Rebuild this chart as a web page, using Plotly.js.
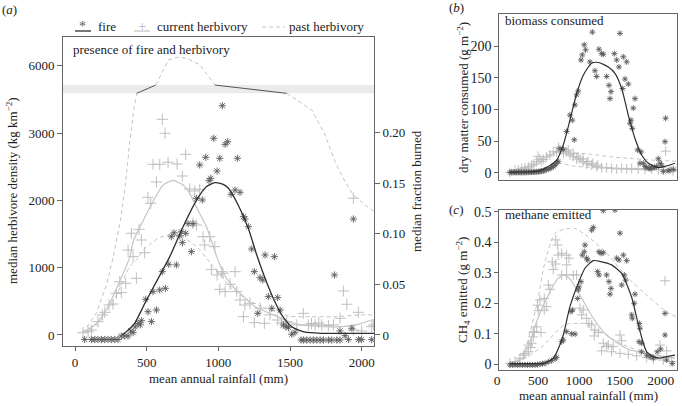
<!DOCTYPE html>
<html>
<head>
<meta charset="utf-8">
<script src="https://cdn.plot.ly/plotly-3.0.1.min.js"></script>
<style>html,body{margin:0;padding:0;background:#fff}#chart{width:682px;height:406px}</style>
</head>
<body>
<div id="chart"></div>
<script>
// ---------- DATA (mean annual rainfall in mm, value) ----------
const rainTicks = [0, 500, 1000, 1500, 2000];
const rainTickText = ['0', '500', '1000', '1500', '2000'];

// Panel (a): fire (median fraction burned, right axis)
const fireA = [[67,-0.0045],[114,-0.0045],[137,-0.0045],[160,-0.0045],[184,-0.0045],[207,-0.0045],[230,-0.0045],[253,-0.0045],[277,-0.0045],[300,-0.0045],[323,-0.001],[347,-0.001],[370,-0.001],[390,0.004],[405,0.0023],[420,0.008],[440,0.0115],[455,0.01],[463,0.0141],[533,0.0132],[509,0.023],[568,0.0247],[493,0.0353],[544,0.0428],[591,0.0445],[630,0.0461],[609,0.0626],[654,0.0698],[707,0.0692],[672,0.0971],[691,0.101],[731,0.0978],[742,0.102],[772,0.1005],[749,0.0912],[812,0.0823],[789,0.110],[823,0.110],[847,0.135],[888,0.1334],[870,0.168],[912,0.1756],[935,0.1525],[947,0.1548],[991,0.162],[968,0.1944],[1010,0.1746],[1028,0.2266],[1047,0.1884],[1065,0.191],[1133,0.1746],[1089,0.139],[1117,0.1433],[1151,0.141],[1175,0.1169],[1186,0.1146],[1210,0.107],[1233,0.085],[1326,0.079],[1391,0.0774],[1251,0.0626],[1291,0.0566],[1310,0.0543],[1349,0.0379],[1414,0.0369],[1373,0.0264],[1431,0.0247],[1275,0.0214],[1454,0.0099],[1472,0.0082],[1489,0.0072],[1512,0.0007],[1535,0.0027],[1577,-0.005],[1593,-0.005],[1617,-0.005],[1640,-0.005],[1663,-0.005],[1687,-0.005],[1710,-0.005],[1733,-0.005],[1768,-0.005],[1791,-0.005],[1826,-0.005],[1849,-0.005],[1810,0.0593],[1942,0.1146],[1849,0.004],[1884,-0.0007],[1907,-0.0046],[1977,-0.0046],[2000,-0.0046],[2070,-0.0046],[1931,0.0066]];
const fireLineA = [[330,0],[358,0.0033],[416,0.0115],[486,0.031],[568,0.0527],[661,0.0774],[754,0.107],[847,0.133],[916,0.1465],[975,0.1505],[1030,0.149],[1070,0.145],[1140,0.128],[1210,0.105],[1268,0.079],[1326,0.056],[1384,0.036],[1442,0.0198],[1512,0.0082],[1605,0.0027],[1721,0.0016],[2086,0.0016]];
// Panel (a): herbivore density (kg km-2, left axis)
const herbA = [[56,34],[91,50],[114,74],[160,198],[191,298],[207,337],[237,446],[265,461],[289,620],[323,630],[312,793],[354,769],[428,843],[370,1265],[405,1165],[486,1224],[463,1413],[393,1513],[447,1572],[528,1959],[509,2048],[568,2276],[544,2539],[591,2539],[649,2569],[712,2544],[772,2688],[749,2365],[609,3209],[628,3000],[800,2172],[835,2142],[870,2167],[823,1661],[847,1636],[893,1462],[940,1462],[905,1339],[975,1314],[951,977],[991,893],[1010,680],[1033,918],[1024,942],[1117,942],[1047,645],[1082,754],[1128,645],[1151,521],[1186,446],[1221,471],[1175,273],[1251,183],[1321,174],[1291,397],[1360,300],[1414,223],[1440,180],[1477,198],[1593,322],[1547,149],[1628,150],[1650,170],[1675,150],[1700,180],[1721,150],[1768,140],[1803,150],[1849,248],[1872,655],[1896,457],[1977,337],[1942,74],[2000,60],[2070,124],[1942,2034],[2082,149]];
const herbLineA = [[56,30],[149,170],[219,380],[291,700],[381,1150],[407,1400],[475,1700],[523,1900],[614,2230],[684,2300],[754,2230],[802,2100],[847,1900],[919,1600],[986,1180],[1033,930],[1093,740],[1151,620],[1256,420],[1384,300],[1512,180],[1675,130],[1861,124],[1977,159],[2082,230]];
const pastLowA = [[56,30],[149,140],[219,372],[291,600],[381,1016],[430,1116],[475,1265],[523,1350],[580,1440],[640,1480],[700,1480],[756,1450],[849,1314],[965,1016],[1093,695],[1221,500],[1338,397],[1500,280],[1650,272],[1803,272],[1989,298],[2082,298]];
const pastUpA = [[56,30],[149,330],[219,740],[265,1150],[312,1650],[347,2150],[381,2850],[410,3350],[430,3595],[563,5712],[616,5936],[651,6085],[710,6125],[779,6110],[872,6011],[977,5712],[1477,3595],[1512,3545],[1652,3347],[1745,2975],[1814,2578],[1884,2281],[1942,2083],[2024,1934],[2086,1834]];
// axis break of panel (a): values between these are squeezed into the grey band
const breakLow = 3595, breakHigh = 5712;
const leftTicks = [0, 1000, 2000, 3000, 6000];
const rightTicks = [0, 0.05, 0.10, 0.15, 0.20];
const rightTickText = ['0', '0.05', '0.10', '0.15', '0.20'];

// Panel (b): dry matter consumed (g m-2)
const fireB = [[46,0.5],[66,0.5],[87,0.5],[107,0.5],[128,0.5],[148,0.5],[169,0.5],[189,0.5],[210,0.5],[230,0.5],[250,0.8],[270,0.8],[291,1],[311,1],[332,1],[352,1.2],[373,1.5],[393,1.5],[413,2],[434,2.5],[454,3],[475,4],[495,5],[516,6],[536,7],[556,8],[576,10],[597,12],[617,15],[637,18],[658,38],[699,37],[740,65],[833,52],[780,91],[809,83],[842,107],[862,123],[882,129],[915,178],[931,186],[955,202],[972,194],[1025,175],[1054,222],[1086,161],[1107,152],[1135,195],[1168,188],[1188,187],[1229,152],[1258,138],[1282,128],[1270,117],[1323,188],[1352,178],[1380,167],[1392,220],[1433,183],[1474,175],[1453,148],[1494,140],[1425,133],[1576,117],[1555,102],[1527,83],[1515,78],[1543,70],[1608,36],[1649,33],[1637,15],[1678,15],[1700,10],[1719,8],[1747,8],[1760,6],[1780,8],[1812,8],[1840,10],[1861,22],[1882,15],[1900,12],[1922,2],[1951,86],[1943,49],[1980,3],[2004,4],[2050,5]];
const fireLineB = [[46,1],[250,1.5],[400,3],[475,7],[540,12],[618,20],[699,44],[780,83],[862,125],[943,154],[1046,173],[1127,174],[1249,167],[1331,157],[1413,133],[1494,91],[1576,54],[1657,28],[1739,15],[1861,8],[1943,10],[2065,15]];
const herbB = [[46,0.5],[108,4.3],[150,5],[190,6.9],[230,8],[271,9.5],[312,12],[340,14],[373,17.4],[390,26],[413,21.6],[430,18],[454,21],[495,25.3],[536,28],[576,33],[617,33],[640,40],[658,35.8],[699,37.4],[700,30],[740,33],[760,36],[780,28],[820,30],[821,25.3],[862,21.6],[880,25],[903,21.6],[940,22],[943,17.4],[984,14],[1000,18],[1046,12],[1060,15],[1107,9.5],[1120,12],[1168,8],[1229,8],[1290,6.9],[1352,6],[1413,6.9],[1474,6],[1535,6.9],[1616,6],[1698,5],[1780,6],[1861,5],[1922,4.5],[1951,34],[2040,3]];
const herbLineB = [[46,1],[250,5],[400,15],[500,24],[600,31],[700,33],[800,28],[900,20],[1000,14],[1100,10],[1250,7.5],[1450,6],[1700,5],[1900,5],[2086,5]];
const pastUpB = [[46,1],[250,6],[393,18],[500,27],[597,33],[700,35],[801,32],[1046,29],[1290,25],[1576,22],[1780,20],[2024,18.5],[2086,18]];
const pastLowB = [[46,0.5],[250,2],[352,4],[500,9],[637,15],[700,14],[801,11],[1046,8],[1290,7],[1576,6],[1820,8],[2024,9.5],[2086,10]];
const ticksB = [0, 50, 100, 150, 200];

// Panel (c): CH4 emitted (g m-2)
const fireC = [[46,-0.002],[77,-0.002],[108,-0.002],[139,-0.002],[169,-0.002],[200,-0.002],[230,-0.002],[261,-0.002],[291,-0.002],[322,-0.002],[352,-0.002],[383,-0.001],[413,0],[444,0.002],[475,0.003],[515,0.008],[556,0.012],[597,0.018],[617,0.023],[679,0.074],[699,0.08],[740,0.107],[801,0.1],[842,0.099],[793,0.173],[813,0.178],[874,0.216],[882,0.244],[890,0.254],[915,0.271],[931,0.358],[955,0.369],[964,0.391],[984,0.348],[997,0.342],[1046,0.44],[1066,0.449],[1119,0.304],[1135,0.293],[1135,0.369],[1160,0.364],[1188,0.366],[1229,0.293],[1258,0.271],[1282,0.249],[1270,0.23],[1188,0.504],[1331,0.506],[1392,0.43],[1352,0.348],[1380,0.342],[1433,0.358],[1474,0.34],[1445,0.293],[1462,0.276],[1413,0.26],[1576,0.23],[1567,0.2],[1535,0.162],[1543,0.151],[1625,0.074],[1657,0.069],[1943,0.167],[1943,0.096],[1629,0.134],[1637,0.118],[1657,0.041],[1719,0.03],[1759,0.025],[1800,0.02],[1848,0.041],[1890,0.05],[1963,0.014],[2032,0.003]];
const fireLineC = [[46,0.002],[300,0.002],[463,0.003],[576,0.02],[620,0.04],[699,0.096],[780,0.189],[882,0.266],[964,0.315],[1066,0.340],[1168,0.336],[1290,0.326],[1413,0.298],[1535,0.22],[1616,0.13],[1677,0.07],[1719,0.041],[1800,0.025],[1882,0.02],[1963,0.025],[2065,0.03]];
const herbC = [[46,0.003],[108,0.009],[169,0.02],[210,0.03],[230,0.035],[271,0.041],[271,0.063],[300,0.055],[312,0.069],[332,0.09],[344,0.107],[426,0.104],[332,0.105],[373,0.123],[393,0.176],[466,0.178],[385,0.194],[495,0.189],[413,0.211],[466,0.216],[515,0.26],[536,0.246],[576,0.311],[564,0.336],[606,0.329],[606,0.408],[630,0.391],[637,0.358],[679,0.364],[740,0.358],[768,0.348],[740,0.326],[679,0.293],[740,0.293],[821,0.293],[862,0.293],[903,0.184],[943,0.178],[923,0.162],[984,0.151],[1013,0.134],[1046,0.129],[1086,0.112],[1127,0.104],[1078,0.093],[1392,0.096],[1188,0.069],[1249,0.063],[1310,0.058],[1943,0.274],[1882,0.063],[1168,0.044],[1290,0.041],[1392,0.036],[1494,0.033],[1596,0.028],[1719,0.022],[1800,0.017],[1922,0.014],[2024,0.009],[1229,0.058],[1413,0.077],[1963,0.044]];
const herbLineC = [[46,0.003],[200,0.02],[291,0.074],[373,0.14],[456,0.194],[540,0.24],[617,0.276],[700,0.293],[780,0.28],[850,0.25],[903,0.227],[1066,0.151],[1229,0.096],[1474,0.052],[1800,0.03],[2065,0.02]];
const pastUpC = [[46,0.003],[169,0.02],[250,0.063],[373,0.194],[475,0.336],[597,0.43],[719,0.443],[842,0.446],[1005,0.418],[1229,0.364],[1494,0.282],[1739,0.222],[1963,0.172],[2086,0.155]];
const pastLowC = [[46,0.002],[150,0.01],[291,0.03],[450,0.06],[576,0.096],[679,0.123],[780,0.134],[842,0.134],[943,0.134],[1086,0.112],[1148,0.107],[1392,0.069],[1719,0.036],[2065,0.02]];
const ticksC = [0, 0.1, 0.2, 0.3, 0.4, 0.5];

// legend labels
const legendLabels = ['fire', 'current herbivory', 'past herbivory'];

// ---------- STYLE ----------
const FONT = 'Liberation Serif, "Times New Roman", Times, serif';
const AST = '#5a5a5a', PLUS = '#b8b8b8', FIRE = '#2e2e2e', HERB = '#c4c4c4', PAST = '#c4c4c4', AXIS = '#666';
const W = 682, H = 406;
const px = v => v / W, py = v => 1 - v / H;

// broken-axis mapping of panel (a) left axis (display units = kg km-2 below the break)
const bandSize = 123;
function brk(v) {
  if (v <= breakLow) return v;
  if (v >= breakHigh) return v - breakHigh + breakLow + bandSize;
  return breakLow + (v - breakLow) / (breakHigh - breakLow) * bandSize;
}
const X = a => a.map(p => p[0]);
const Y = a => a.map(p => p[1]);

function pointsTrace(arr, xa, ya, sym, size, color, map) {
  return {x: X(arr), y: map ? Y(arr).map(map) : Y(arr), xaxis: xa, yaxis: ya, mode: 'markers', showlegend: false,
    marker: {symbol: sym, size: size, color: color, line: {color: color, width: 0.9}}, hoverinfo: 'skip'};
}
function lineTrace(arr, xa, ya, color, width, dash, map) {
  return {x: X(arr), y: map ? Y(arr).map(map) : Y(arr), xaxis: xa, yaxis: ya, mode: 'lines', showlegend: false,
    line: {color: color, width: width, dash: dash || 'solid', shape: 'spline', smoothing: 0.6}, hoverinfo: 'skip'};
}
// split a series into runs outside / inside the axis break
function bandRuns(arr) {
  const runs = [];
  for (let i = 0; i < arr.length - 1; i++) {
    const a = arr[i], b = arr[i + 1];
    const inBand = a[1] >= breakLow && a[1] <= breakHigh && b[1] >= breakLow && b[1] <= breakHigh;
    const last = runs[runs.length - 1];
    if (last && last.band === inBand) last.pts.push(b); else runs.push({band: inBand, pts: [a, b]});
  }
  return runs;
}

const DASH = '4px,3px';
const traces = [];
// panel (a)
traces.push(lineTrace(pastLowA, 'x', 'y', PAST, 1, DASH));
bandRuns(pastUpA).forEach(r => {
  const t = lineTrace(r.pts, 'x', 'y', r.band ? '#555' : PAST, 1, r.band ? 'solid' : DASH, brk);
  t.line.shape = 'linear';
  traces.push(t);
});
traces.push(pointsTrace(herbA, 'x', 'y', 'cross-thin-open', 8, PLUS));
traces.push(lineTrace(herbLineA, 'x', 'y', HERB, 1.2));
traces.push(pointsTrace(fireA, 'x', 'y2', 'asterisk-open', 6, AST));
traces.push(lineTrace(fireLineA, 'x', 'y2', FIRE, 1.3));
// panel (b)
traces.push(lineTrace(pastUpB, 'x2', 'y3', PAST, 1, DASH));
traces.push(lineTrace(pastLowB, 'x2', 'y3', PAST, 1, DASH));
traces.push(pointsTrace(herbB, 'x2', 'y3', 'cross-thin-open', 7, PLUS));
traces.push(lineTrace(herbLineB, 'x2', 'y3', HERB, 1.2));
traces.push(pointsTrace(fireB, 'x2', 'y3', 'asterisk-open', 5, AST));
traces.push(lineTrace(fireLineB, 'x2', 'y3', FIRE, 1.2));
// panel (c)
traces.push(lineTrace(pastUpC, 'x3', 'y4', PAST, 1, DASH));
traces.push(lineTrace(pastLowC, 'x3', 'y4', PAST, 1, DASH));
traces.push(pointsTrace(herbC, 'x3', 'y4', 'cross-thin-open', 7, PLUS));
traces.push(lineTrace(herbLineC, 'x3', 'y4', HERB, 1.2));
traces.push(pointsTrace(fireC, 'x3', 'y4', 'asterisk-open', 5, AST));
traces.push(lineTrace(fireLineC, 'x3', 'y4', FIRE, 1.2));

const tickFont = {family: FONT, size: 13, color: '#222'};
const tickFontBC = {family: FONT, size: 14, color: '#222'};
const baseAx = {showgrid: false, zeroline: false, showline: true, linecolor: AXIS, linewidth: 1, mirror: true,
  ticks: 'outside', ticklen: 5, tickcolor: AXIS, tickfont: tickFont};

const xRange = [-84, 2086];
function ann(text, x, y, opts) {
  return Object.assign({text: text, x: px(x), y: py(y), xref: 'paper', yref: 'paper', showarrow: false,
    xanchor: 'center', yanchor: 'middle', font: {family: FONT, size: 13, color: '#222'}}, opts || {});
}
function hline(x0, x1, y, color, width, dash) {
  return {type: 'line', xref: 'paper', yref: 'paper', x0: px(x0), x1: px(x1), y0: py(y), y1: py(y),
    line: {color: color, width: width, dash: dash || 'solid'}};
}

const layout = {
  width: W, height: H, margin: {l: 0, r: 0, t: 0, b: 0},
  paper_bgcolor: '#fff', plot_bgcolor: '#fff',
  font: {family: FONT, size: 13, color: '#222'},
  showlegend: false,
  xaxis: Object.assign({}, baseAx, {domain: [px(63), px(374)], anchor: 'y', range: xRange, ticklen: 4,
    tickvals: rainTicks, ticktext: rainTickText}),
  yaxis: Object.assign({}, baseAx, {domain: [py(346), py(37)], anchor: 'x', range: [-164, 4433],
    tickvals: leftTicks.map(brk), ticktext: leftTicks.map(String)}),
  yaxis2: Object.assign({}, baseAx, {overlaying: 'y', side: 'right', anchor: 'x', showline: false, mirror: false,
    range: [-0.0109, 0.2945], tickvals: rightTicks, ticktext: rightTickText}),
  xaxis2: Object.assign({}, baseAx, {domain: [px(499.3), px(676.7)], anchor: 'y3', range: xRange, ticks: '', showticklabels: false}),
  yaxis3: Object.assign({}, baseAx, {domain: [py(180), py(14)], anchor: 'x2', range: [-11.5, 250.6], ticklen: 4, tickfont: tickFontBC,
    tickvals: ticksB, ticktext: ticksB.map(String)}),
  xaxis3: Object.assign({}, baseAx, {domain: [px(499.3), px(676.7)], anchor: 'y4', range: xRange, ticks: '',
    tickfont: {family: FONT, size: 13.5, color: '#222'}, ticklabelshift: -9, ticklabelstandoff: -2, ticklabeloverflow: 'allow',
    tickvals: rainTicks, ticktext: rainTickText}),
  yaxis4: Object.assign({}, baseAx, {domain: [py(370), py(210)], anchor: 'x3', range: [-0.0187, 0.506], ticklen: 4, tickfont: tickFontBC,
    tickvals: ticksC, ticktext: ticksC.map(String)}),
  shapes: [
    {type: 'rect', xref: 'paper', yref: 'y', x0: px(63), x1: px(374), y0: breakLow, y1: breakLow + bandSize,
      fillcolor: '#ebebeb', line: {width: 0}, layer: 'below'},
    // legend keys
    hline(75, 91, 31, FIRE, 1.3),
    hline(134, 150, 31, HERB, 1.2),
    hline(262, 285, 27, PAST, 1, DASH)
  ],
  annotations: [
    ann('*', 82.5, 26, {font: {family: FONT, size: 14, color: AST}}),
    ann('+', 141.5, 26, {font: {family: FONT, size: 15, color: PLUS}}),
    ann(legendLabels[0], 96, 27, {xanchor: 'left'}),
    ann(legendLabels[1], 155, 27, {xanchor: 'left'}),
    ann(legendLabels[2], 287, 27, {xanchor: 'left'}),
    ann('(<i>a</i>)', 9, 9),
    ann('(<i>b</i>)', 456, 8),
    ann('(<i>c</i>)', 456, 209),
    ann('presence of fire and herbivory', 71, 49, {xanchor: 'left'}),
    ann('biomass consumed', 503, 21, {xanchor: 'left'}),
    ann('methane emitted', 503, 215, {xanchor: 'left'}),
    ann('median herbivore density (kg km<sup>−2</sup>)', 12, 191, {textangle: -90}),
    ann('median fraction burned', 416, 191, {textangle: -90}),
    ann('dry matter consumed (g m<sup>−2</sup>)', 463, 97, {textangle: -90}),
    ann('CH<sub>4</sub> emitted (g m<sup>−2</sup>)', 463, 290, {textangle: -90}),
    ann('mean annual rainfall (mm)', 218.5, 378.5),
    ann('mean annual rainfall (mm)', 588, 395)
  ]
};

Plotly.newPlot('chart', traces, layout, {staticPlot: true, displayModeBar: false});
</script>
</body>
</html>
